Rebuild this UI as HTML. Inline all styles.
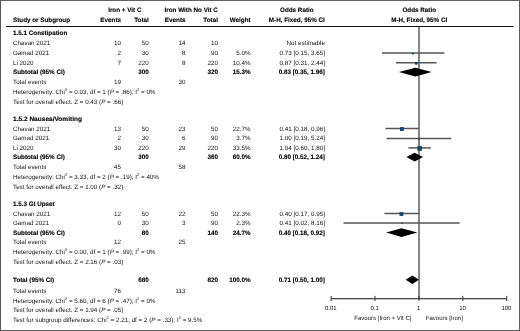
<!DOCTYPE html>
<html><head><meta charset="utf-8"><style>
html,body{margin:0;padding:0;background:#fff;}
body{width:520px;height:331px;overflow:hidden;}
.wrap{position:absolute;left:0;top:0;width:520px;height:331px;will-change:transform;}
.frame{position:absolute;left:0;top:0;width:518px;height:329px;border:1px solid #444;border-top-color:#626262;border-left-color:#555;border-right-color:#5e5e5e;border-bottom-color:#585858;}
svg{position:absolute;left:0;top:0;text-rendering:geometricPrecision;font-family:"Liberation Sans",sans-serif;}
</style></head><body>
<div class="frame"></div>
<div class="wrap"><svg width="520" height="331" viewBox="0 0 520 331">
<line x1="6" y1="26.45" x2="513.5" y2="26.45" stroke="#111" stroke-width="1.1"/>
<line x1="419.0" y1="26.4" x2="419.0" y2="298.7" stroke="#333" stroke-width="1.2"/>
<line x1="331.10" y1="298.7" x2="506.70" y2="298.7" stroke="#111" stroke-width="1.1"/>
<line x1="331.10" y1="295.9" x2="331.10" y2="301.09999999999997" stroke="#333" stroke-width="1"/>
<line x1="375.00" y1="295.9" x2="375.00" y2="301.09999999999997" stroke="#333" stroke-width="1"/>
<line x1="418.90" y1="295.9" x2="418.90" y2="301.09999999999997" stroke="#333" stroke-width="1"/>
<line x1="462.80" y1="295.9" x2="462.80" y2="301.09999999999997" stroke="#333" stroke-width="1"/>
<line x1="506.70" y1="295.9" x2="506.70" y2="301.09999999999997" stroke="#333" stroke-width="1"/>
<line x1="382.73" y1="53.07" x2="443.58" y2="53.07" stroke="#555" stroke-width="1.5" stroke-linecap="square"/>
<rect x="411.99" y="52.66" width="1.81" height="1.81" fill="#1b4270"/>
<line x1="396.57" y1="62.85" x2="435.91" y2="62.85" stroke="#555" stroke-width="1.5" stroke-linecap="square"/>
<rect x="414.94" y="62.04" width="2.61" height="2.61" fill="#1b4270"/>
<polygon points="398.88,72.1 415.35,67.8 431.73,72.1 415.35,76.39999999999999" fill="#000"/>
<line x1="386.21" y1="128.5" x2="418.12" y2="128.5" stroke="#555" stroke-width="1.5" stroke-linecap="square"/>
<rect x="399.97" y="127.07" width="3.86" height="3.86" fill="#1b4270"/>
<line x1="387.24" y1="138.4" x2="450.48" y2="138.4" stroke="#555" stroke-width="1.5" stroke-linecap="square"/>
<rect x="418.12" y="138.12" width="1.56" height="1.56" fill="#1b4270"/>
<line x1="409.16" y1="147.9" x2="430.11" y2="147.9" stroke="#555" stroke-width="1.5" stroke-linecap="square"/>
<rect x="417.30" y="146.06" width="4.69" height="4.69" fill="#1b4270"/>
<polygon points="406.43,157.1 414.65,152.79999999999998 423.00,157.1 414.65,161.4" fill="#000"/>
<line x1="385.12" y1="213.5" x2="417.92" y2="213.5" stroke="#555" stroke-width="1.5" stroke-linecap="square"/>
<rect x="399.52" y="212.09" width="3.83" height="3.83" fill="#1b4270"/>
<line x1="344.32" y1="222.9" x2="458.92" y2="222.9" stroke="#555" stroke-width="1.5" stroke-linecap="square"/>
<rect x="401.29" y="222.79" width="1.23" height="1.23" fill="#1b4270"/>
<polygon points="386.21,232.6 401.43,228.29999999999998 417.31,232.6 401.43,236.9" fill="#000"/>
<polygon points="405.68,279.8 412.37,275.5 418.90,279.8 412.37,284.1" fill="#000"/>
<text x="124.8" y="11.5" font-size="6.3" font-weight="bold" stroke="#000" stroke-width="0.12" fill="#000" text-anchor="middle">Iron + Vit C</text>
<text x="191.2" y="11.5" font-size="6.3" font-weight="bold" stroke="#000" stroke-width="0.12" fill="#000" text-anchor="middle">Iron With No Vit C</text>
<text x="296.8" y="11.5" font-size="6.3" font-weight="bold" stroke="#000" stroke-width="0.12" fill="#000" text-anchor="middle">Odds Ratio</text>
<text x="419.2" y="11.5" font-size="6.3" font-weight="bold" stroke="#000" stroke-width="0.12" fill="#000" text-anchor="middle">Odds Ratio</text>
<text x="13" y="21.9" font-size="6.3" font-weight="bold" stroke="#000" stroke-width="0.12" fill="#000" text-anchor="start">Study or Subgroup</text>
<text x="121" y="21.9" font-size="6.3" font-weight="bold" stroke="#000" stroke-width="0.12" fill="#000" text-anchor="end">Events</text>
<text x="148.8" y="21.9" font-size="6.3" font-weight="bold" stroke="#000" stroke-width="0.12" fill="#000" text-anchor="end">Total</text>
<text x="185.5" y="21.9" font-size="6.3" font-weight="bold" stroke="#000" stroke-width="0.12" fill="#000" text-anchor="end">Events</text>
<text x="217.9" y="21.9" font-size="6.3" font-weight="bold" stroke="#000" stroke-width="0.12" fill="#000" text-anchor="end">Total</text>
<text x="250.6" y="21.9" font-size="6.3" font-weight="bold" stroke="#000" stroke-width="0.12" fill="#000" text-anchor="end">Weight</text>
<text x="296.8" y="21.9" font-size="6.3" font-weight="bold" stroke="#000" stroke-width="0.12" fill="#000" text-anchor="middle">M-H, Fixed, 95% CI</text>
<text x="419.2" y="21.9" font-size="6.3" font-weight="bold" stroke="#000" stroke-width="0.12" fill="#000" text-anchor="middle">M-H, Fixed, 95% CI</text>
<text x="13" y="35" font-size="6.3" font-weight="bold" stroke="#000" stroke-width="0.12" fill="#000" text-anchor="start">1.5.1 Constipation</text>
<text x="13" y="44.9" font-size="6.28" fill="#111" text-anchor="start">Chavan 2021</text>
<text x="121" y="44.9" font-size="6.28" fill="#111" text-anchor="end">10</text>
<text x="148.8" y="44.9" font-size="6.28" fill="#111" text-anchor="end">50</text>
<text x="185.5" y="44.9" font-size="6.28" fill="#111" text-anchor="end">14</text>
<text x="217.9" y="44.9" font-size="6.28" fill="#111" text-anchor="end">10</text>
<text x="324.9" y="44.9" font-size="6.28" fill="#111" text-anchor="end">Not estimable</text>
<text x="13" y="54.7" font-size="6.28" fill="#111" text-anchor="start">Gamad 2021</text>
<text x="121" y="54.7" font-size="6.28" fill="#111" text-anchor="end">2</text>
<text x="148.8" y="54.7" font-size="6.28" fill="#111" text-anchor="end">30</text>
<text x="185.5" y="54.7" font-size="6.28" fill="#111" text-anchor="end">8</text>
<text x="217.9" y="54.7" font-size="6.28" fill="#111" text-anchor="end">90</text>
<text x="250.6" y="54.7" font-size="6.28" fill="#111" text-anchor="end">5.0%</text>
<text x="324.9" y="54.7" font-size="6.28" fill="#111" text-anchor="end">0.73 [0.15, 3.65]</text>
<text x="13" y="64.5" font-size="6.28" fill="#111" text-anchor="start">Li 2020</text>
<text x="121" y="64.5" font-size="6.28" fill="#111" text-anchor="end">7</text>
<text x="148.8" y="64.5" font-size="6.28" fill="#111" text-anchor="end">220</text>
<text x="185.5" y="64.5" font-size="6.28" fill="#111" text-anchor="end">8</text>
<text x="217.9" y="64.5" font-size="6.28" fill="#111" text-anchor="end">220</text>
<text x="250.6" y="64.5" font-size="6.28" fill="#111" text-anchor="end">10.4%</text>
<text x="324.9" y="64.5" font-size="6.28" fill="#111" text-anchor="end">0.87 [0.31, 2.44]</text>
<text x="13" y="74.1" font-size="6.3" font-weight="bold" stroke="#000" stroke-width="0.12" fill="#000" text-anchor="start">Subtotal (95% CI)</text>
<text x="148.8" y="74.1" font-size="6.3" font-weight="bold" stroke="#000" stroke-width="0.12" fill="#000" text-anchor="end">300</text>
<text x="217.9" y="74.1" font-size="6.3" font-weight="bold" stroke="#000" stroke-width="0.12" fill="#000" text-anchor="end">320</text>
<text x="250.6" y="74.1" font-size="6.3" font-weight="bold" stroke="#000" stroke-width="0.12" fill="#000" text-anchor="end">15.3%</text>
<text x="324.9" y="74.1" font-size="6.3" font-weight="bold" stroke="#000" stroke-width="0.12" fill="#000" text-anchor="end">0.83 [0.35, 1.96]</text>
<text x="13" y="83.9" font-size="6.28" fill="#111" text-anchor="start">Total events</text>
<text x="121" y="83.9" font-size="6.28" fill="#111" text-anchor="end">19</text>
<text x="185.5" y="83.9" font-size="6.28" fill="#111" text-anchor="end">30</text>
<text x="13" y="93.8" font-size="6.28" fill="#111" text-anchor="start">Heterogeneity: Chi<tspan font-size="4.0" dy="-3.0">2</tspan><tspan dy="3.0"> = 0.03, df = 1 (<tspan font-style="italic">P</tspan> = .86); I<tspan font-size="4.0" dy="-3.0">2</tspan><tspan dy="3.0"> = 0%</tspan></tspan></text>
<text x="13" y="103.6" font-size="6.28" fill="#111" text-anchor="start">Test for overall effect: Z = 0.43 (<tspan font-style="italic">P</tspan> = .66)</text>
<text x="13" y="120.7" font-size="6.3" font-weight="bold" stroke="#000" stroke-width="0.12" fill="#000" text-anchor="start" textLength="69" lengthAdjust="spacingAndGlyphs">1.5.2 Nausea/Vomiting</text>
<text x="13" y="130.6" font-size="6.28" fill="#111" text-anchor="start">Chavan 2021</text>
<text x="121" y="130.6" font-size="6.28" fill="#111" text-anchor="end">13</text>
<text x="148.8" y="130.6" font-size="6.28" fill="#111" text-anchor="end">50</text>
<text x="185.5" y="130.6" font-size="6.28" fill="#111" text-anchor="end">23</text>
<text x="217.9" y="130.6" font-size="6.28" fill="#111" text-anchor="end">50</text>
<text x="250.6" y="130.6" font-size="6.28" fill="#111" text-anchor="end">22.7%</text>
<text x="324.9" y="130.6" font-size="6.28" fill="#111" text-anchor="end">0.41 [0.18, 0.96]</text>
<text x="13" y="140.4" font-size="6.28" fill="#111" text-anchor="start">Gamad 2021</text>
<text x="121" y="140.4" font-size="6.28" fill="#111" text-anchor="end">2</text>
<text x="148.8" y="140.4" font-size="6.28" fill="#111" text-anchor="end">30</text>
<text x="185.5" y="140.4" font-size="6.28" fill="#111" text-anchor="end">6</text>
<text x="217.9" y="140.4" font-size="6.28" fill="#111" text-anchor="end">90</text>
<text x="250.6" y="140.4" font-size="6.28" fill="#111" text-anchor="end">3.7%</text>
<text x="324.9" y="140.4" font-size="6.28" fill="#111" text-anchor="end">1.00 [0.19, 5.24]</text>
<text x="13" y="150.1" font-size="6.28" fill="#111" text-anchor="start">Li 2020</text>
<text x="121" y="150.1" font-size="6.28" fill="#111" text-anchor="end">30</text>
<text x="148.8" y="150.1" font-size="6.28" fill="#111" text-anchor="end">220</text>
<text x="185.5" y="150.1" font-size="6.28" fill="#111" text-anchor="end">29</text>
<text x="217.9" y="150.1" font-size="6.28" fill="#111" text-anchor="end">220</text>
<text x="250.6" y="150.1" font-size="6.28" fill="#111" text-anchor="end">33.5%</text>
<text x="324.9" y="150.1" font-size="6.28" fill="#111" text-anchor="end">1.04 [0.60, 1.80]</text>
<text x="13" y="159.4" font-size="6.3" font-weight="bold" stroke="#000" stroke-width="0.12" fill="#000" text-anchor="start">Subtotal (95% CI)</text>
<text x="148.8" y="159.4" font-size="6.3" font-weight="bold" stroke="#000" stroke-width="0.12" fill="#000" text-anchor="end">300</text>
<text x="217.9" y="159.4" font-size="6.3" font-weight="bold" stroke="#000" stroke-width="0.12" fill="#000" text-anchor="end">360</text>
<text x="250.6" y="159.4" font-size="6.3" font-weight="bold" stroke="#000" stroke-width="0.12" fill="#000" text-anchor="end">60.0%</text>
<text x="324.9" y="159.4" font-size="6.3" font-weight="bold" stroke="#000" stroke-width="0.12" fill="#000" text-anchor="end">0.80 [0.52, 1.24]</text>
<text x="13" y="169.2" font-size="6.28" fill="#111" text-anchor="start">Total events</text>
<text x="121" y="169.2" font-size="6.28" fill="#111" text-anchor="end">45</text>
<text x="185.5" y="169.2" font-size="6.28" fill="#111" text-anchor="end">58</text>
<text x="13" y="179.0" font-size="6.28" fill="#111" text-anchor="start">Heterogeneity: Chi<tspan font-size="4.0" dy="-3.0">2</tspan><tspan dy="3.0"> = 3.33, df = 2 (<tspan font-style="italic">P</tspan> = .19); I<tspan font-size="4.0" dy="-3.0">2</tspan><tspan dy="3.0"> = 40%</tspan></tspan></text>
<text x="13" y="188.7" font-size="6.28" fill="#111" text-anchor="start">Test for overall effect: Z = 1.00 (<tspan font-style="italic">P</tspan> = .32)</text>
<text x="13" y="205.9" font-size="6.3" font-weight="bold" stroke="#000" stroke-width="0.12" fill="#000" text-anchor="start">1.5.3 GI Upset</text>
<text x="13" y="215.5" font-size="6.28" fill="#111" text-anchor="start">Chavan 2021</text>
<text x="121" y="215.5" font-size="6.28" fill="#111" text-anchor="end">12</text>
<text x="148.8" y="215.5" font-size="6.28" fill="#111" text-anchor="end">50</text>
<text x="185.5" y="215.5" font-size="6.28" fill="#111" text-anchor="end">22</text>
<text x="217.9" y="215.5" font-size="6.28" fill="#111" text-anchor="end">50</text>
<text x="250.6" y="215.5" font-size="6.28" fill="#111" text-anchor="end">22.3%</text>
<text x="324.9" y="215.5" font-size="6.28" fill="#111" text-anchor="end">0.40 [0.17, 0.95]</text>
<text x="13" y="225.2" font-size="6.28" fill="#111" text-anchor="start">Gamad 2021</text>
<text x="121" y="225.2" font-size="6.28" fill="#111" text-anchor="end">0</text>
<text x="148.8" y="225.2" font-size="6.28" fill="#111" text-anchor="end">30</text>
<text x="185.5" y="225.2" font-size="6.28" fill="#111" text-anchor="end">3</text>
<text x="217.9" y="225.2" font-size="6.28" fill="#111" text-anchor="end">90</text>
<text x="250.6" y="225.2" font-size="6.28" fill="#111" text-anchor="end">2.3%</text>
<text x="324.9" y="225.2" font-size="6.28" fill="#111" text-anchor="end">0.41 [0.02, 8.16]</text>
<text x="13" y="234.6" font-size="6.3" font-weight="bold" stroke="#000" stroke-width="0.12" fill="#000" text-anchor="start">Subtotal (95% CI)</text>
<text x="148.8" y="234.6" font-size="6.3" font-weight="bold" stroke="#000" stroke-width="0.12" fill="#000" text-anchor="end">80</text>
<text x="217.9" y="234.6" font-size="6.3" font-weight="bold" stroke="#000" stroke-width="0.12" fill="#000" text-anchor="end">140</text>
<text x="250.6" y="234.6" font-size="6.3" font-weight="bold" stroke="#000" stroke-width="0.12" fill="#000" text-anchor="end">24.7%</text>
<text x="324.9" y="234.6" font-size="6.3" font-weight="bold" stroke="#000" stroke-width="0.12" fill="#000" text-anchor="end">0.40 [0.18, 0.92]</text>
<text x="13" y="244.4" font-size="6.28" fill="#111" text-anchor="start">Total events</text>
<text x="121" y="244.4" font-size="6.28" fill="#111" text-anchor="end">12</text>
<text x="185.5" y="244.4" font-size="6.28" fill="#111" text-anchor="end">25</text>
<text x="13" y="254.3" font-size="6.28" fill="#111" text-anchor="start">Heterogeneity: Chi<tspan font-size="4.0" dy="-3.0">2</tspan><tspan dy="3.0"> = 0.00, df = 1 (<tspan font-style="italic">P</tspan> = .99); I<tspan font-size="4.0" dy="-3.0">2</tspan><tspan dy="3.0"> = 0%</tspan></tspan></text>
<text x="13" y="264.0" font-size="6.28" fill="#111" text-anchor="start">Test for overall effect: Z = 2.16 (<tspan font-style="italic">P</tspan> = .03)</text>
<text x="13" y="281.7" font-size="6.3" font-weight="bold" stroke="#000" stroke-width="0.12" fill="#000" text-anchor="start">Total (95% CI)</text>
<text x="148.8" y="281.7" font-size="6.3" font-weight="bold" stroke="#000" stroke-width="0.12" fill="#000" text-anchor="end">680</text>
<text x="217.9" y="281.7" font-size="6.3" font-weight="bold" stroke="#000" stroke-width="0.12" fill="#000" text-anchor="end">820</text>
<text x="250.6" y="281.7" font-size="6.3" font-weight="bold" stroke="#000" stroke-width="0.12" fill="#000" text-anchor="end">100.0%</text>
<text x="324.9" y="281.7" font-size="6.3" font-weight="bold" stroke="#000" stroke-width="0.12" fill="#000" text-anchor="end">0.71 [0.50, 1.00]</text>
<text x="13" y="292.7" font-size="6.28" fill="#111" text-anchor="start">Total events</text>
<text x="121" y="292.7" font-size="6.28" fill="#111" text-anchor="end">76</text>
<text x="185.5" y="292.7" font-size="6.28" fill="#111" text-anchor="end">113</text>
<text x="13" y="302.6" font-size="6.28" fill="#111" text-anchor="start">Heterogeneity: Chi<tspan font-size="4.0" dy="-3.0">2</tspan><tspan dy="3.0"> = 5.60, df = 6 (<tspan font-style="italic">P</tspan> = .47); I<tspan font-size="4.0" dy="-3.0">2</tspan><tspan dy="3.0"> = 0%</tspan></tspan></text>
<text x="13" y="312.4" font-size="6.28" fill="#111" text-anchor="start">Test for overall effect: Z = 1.94 (<tspan font-style="italic">P</tspan> = .05)</text>
<text x="13" y="322.2" font-size="6.28" fill="#111" text-anchor="start">Test for subgroup differences: Chi<tspan font-size="4.0" dy="-3.0">2</tspan><tspan dy="3.0"> = 2.21, df = 2 (<tspan font-style="italic">P</tspan> = .33); I<tspan font-size="4.0" dy="-3.0">2</tspan><tspan dy="3.0"> = 9.5%</tspan></tspan></text>
<text x="330.80" y="309.8" font-size="6.0" fill="#111" text-anchor="middle">0.01</text>
<text x="374.70" y="309.8" font-size="6.0" fill="#111" text-anchor="middle">0.1</text>
<text x="418.60" y="309.8" font-size="6.0" fill="#111" text-anchor="middle">1</text>
<text x="462.50" y="309.8" font-size="6.0" fill="#111" text-anchor="middle">10</text>
<text x="506.40" y="309.8" font-size="6.0" fill="#111" text-anchor="middle">100</text>
<text x="382.85" y="319.8" font-size="6.05" fill="#111" text-anchor="middle">Favours [Iron + Vit C]</text>
<text x="444.35" y="319.8" font-size="6.0" fill="#111" text-anchor="middle">Favours [Iron]</text>
</svg></div>
</body></html>
